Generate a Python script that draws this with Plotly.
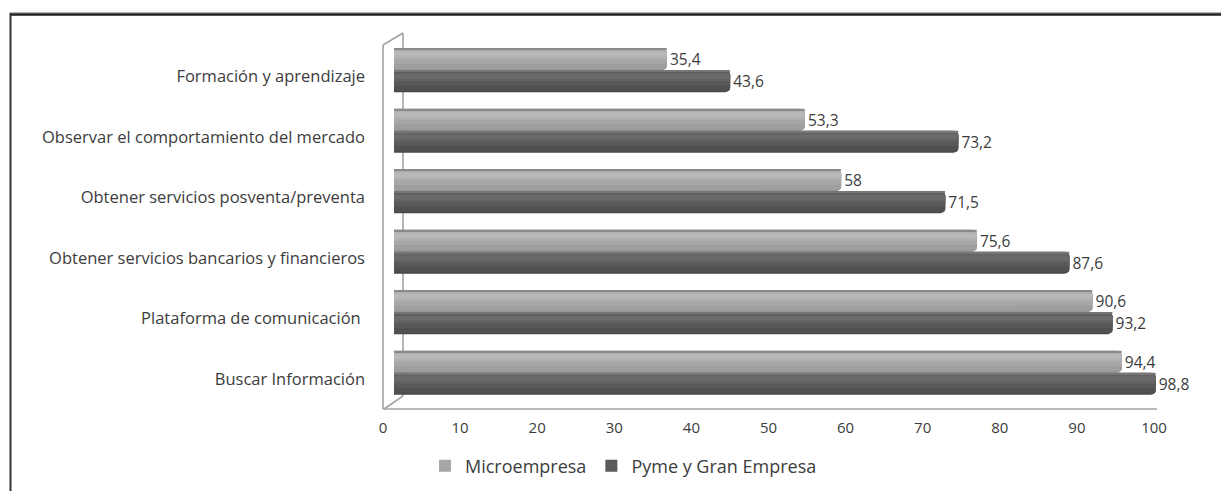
import plotly.graph_objects as go

W, H = 1221, 491

# Categories listed bottom-to-top (first one sits at the bottom of the axis)
categories = [
    "Buscar Información",
    "Plataforma de comunicación\u00a0",
    "Obtener servicios bancarios y financieros",
    "Obtener servicios posventa/preventa",
    "Observar el comportamiento del mercado",
    "Formación y aprendizaje",
]
micro = [94.4, 90.6, 75.6, 58, 53.3, 35.4]
pyme = [98.8, 93.2, 87.6, 71.5, 73.2, 43.6]
x_ticks = [0, 10, 20, 30, 40, 50, 60, 70, 80, 90, 100]

series_names = ["Microempresa", "Pyme y Gran Empresa"]


def fmt(v):
    return f"{v:g}".replace(".", ",")


def px_x(p):
    return p / W


def px_y(p):
    return 1 - p / H


BAR_W = 0.365
FONT = "Open Sans"
TXT = "#3c3c3c"

fig = go.Figure()

# Each series is a cylinder: a base bar plus lighter/darker bands layered on top.
# (offset within the bar from its lower edge, band thickness, colour)
micro_layers = [
    (0.00, 1.00, "#959595"),
    (0.06, 0.88, "#9e9e9e"),
    (0.30, 0.62, "#a7a7a7"),
    (0.50, 0.40, "#b0b0b0"),
    (0.62, 0.22, "#b8b8b8"),
    (0.93, 0.07, "#8a8a8a"),
]
pyme_layers = [
    (0.00, 1.00, "#474747"),
    (0.06, 0.88, "#505050"),
    (0.30, 0.62, "#595959"),
    (0.50, 0.40, "#626262"),
    (0.62, 0.22, "#6a6a6a"),
    (0.93, 0.07, "#767676"),
]

for name, vals, layers, base_off, legend_color in [
    (series_names[0], micro, micro_layers, 0.0, "#a6a6a6"),
    (series_names[1], pyme, pyme_layers, -BAR_W, "#5a5a5a"),
]:
    for k, (o, t, c) in enumerate(layers):
        first = k == 0
        fig.add_trace(
            go.Bar(
                y=categories,
                x=vals,
                orientation="h",
                offset=base_off + o * BAR_W,
                width=t * BAR_W,
                marker=dict(color=c, line=dict(width=0), cornerradius=5 if first else 3),
                name=name,
                showlegend=False,
                text=[fmt(v) for v in vals] if first else None,
                textposition="outside" if first else "none",
                textfont=dict(family=FONT, size=15.5, color=TXT),
                cliponaxis=False,
                hoverinfo="x" if first else "skip",
            )
        )
    # legend swatch
    fig.add_trace(
        go.Scatter(
            x=[None],
            y=[None],
            mode="markers",
            name=name,
            marker=dict(color=legend_color, symbol="square", size=12),
            showlegend=True,
        )
    )

# Chart border and the pseudo-3D wall/floor outline
shapes = [
    dict(type="line", xref="paper", yref="paper",
         x0=px_x(10), x1=1.0, y0=px_y(12.5), y1=px_y(12.5),
         line=dict(color="#b0b0b0", width=1)),
    dict(type="line", xref="paper", yref="paper",
         x0=px_x(10), x1=1.0, y0=px_y(14.5), y1=px_y(14.5),
         line=dict(color="#1e1e1e", width=2.5)),
    dict(type="line", xref="paper", yref="paper",
         x0=px_x(10.5), x1=px_x(10.5), y0=px_y(13), y1=0,
         line=dict(color="#333333", width=2)),
]
wall = "#a3a3a3"
for (xa, ya, xb, yb) in [
    (383, 45, 383, 409),
    (403, 33, 403, 396),
    (383, 45, 403, 33),
    (384, 409, 403, 396),
    (383, 409, 1157, 409),
]:
    shapes.append(dict(type="line", xref="paper", yref="paper",
                       x0=px_x(xa), x1=px_x(xb), y0=px_y(ya), y1=px_y(yb),
                       line=dict(color=wall, width=1.6), layer="below"))

fig.update_layout(
    width=W,
    height=H,
    margin=dict(l=0, r=0, t=0, b=0, autoexpand=False),
    paper_bgcolor="white",
    plot_bgcolor="rgba(0,0,0,0)",
    barmode="overlay",
    separators=",.",
    showlegend=True,
    legend=dict(
        orientation="h",
        x=px_x(425),
        y=px_y(466),
        xanchor="left",
        yanchor="middle",
        font=dict(family=FONT, size=18, color=TXT),
        itemwidth=30,
        tracegroupgap=0,
    ),
    xaxis=dict(
        domain=[px_x(394), px_x(1165)],
        range=[0, 100],
        tickvals=x_ticks,
        ticktext=[str(t) for t in x_ticks],
        showgrid=False,
        zeroline=False,
        showline=False,
        automargin=False,
        ticks="",
        ticklabelshift=-11,
        ticklabelstandoff=14,
        tickfont=dict(family=FONT, size=15, color=TXT),
    ),
    yaxis=dict(
        domain=[px_y(403), px_y(40)],
        type="category",
        range=[-0.5, 5.5],
        showgrid=False,
        zeroline=False,
        showline=False,
        automargin=False,
        ticks="",
        ticklabelshift=6,
        ticklabelstandoff=28,
        tickfont=dict(family=FONT, size=16.5, color=TXT),
    ),
    shapes=shapes,
)

fig.write_html("out.html")
